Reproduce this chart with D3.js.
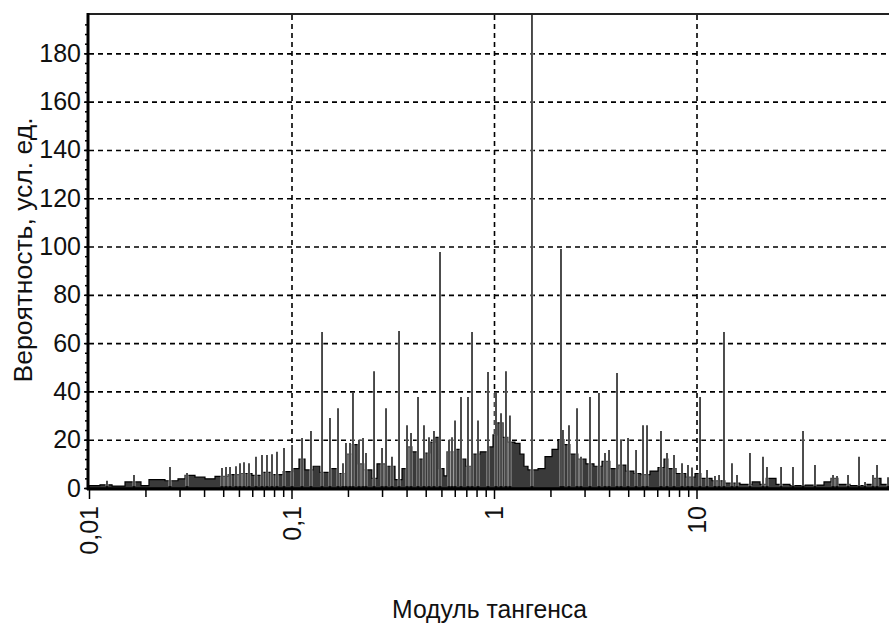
<!DOCTYPE html>
<html>
<head>
<meta charset="utf-8">
<script src="https://cdn.jsdelivr.net/npm/d3@7"></script>
<style>
body { margin: 0; background: #fff; }
text { font-family: "Liberation Sans Narrow", "Liberation Sans", Arial, sans-serif; fill: #111; }
</style>
</head>
<body>
<div id="plot"></div>
<script>
// background of the histogram (step outline), tangent modulus -> probability
var envX = [0.01, 0.01133, 0.0130, 0.01506, 0.01806, 0.01978, 0.02373, 0.02751, 0.0298, 0.03338,
	0.03739, 0.0419, 0.04858, 0.05568, 0.06381, 0.0715, 0.0801, 0.0908, 0.1017, 0.1089,
	0.1166, 0.1277, 0.1382, 0.1549, 0.1697, 0.1858, 0.199, 0.213, 0.228, 0.2498,
	0.2644, 0.2929, 0.3244, 0.3513, 0.3719, 0.3937, 0.4214, 0.4511, 0.4831, 0.5112,
	0.535, 0.5663, 0.5861, 0.6419, 0.6871, 0.7273, 0.7788, 0.8529, 0.9341, 0.9888,
	1.035, 1.108, 1.173, 1.269, 1.344, 1.406, 1.472, 1.65, 1.786, 1.934,
	2.07, 2.217, 2.373, 2.599, 2.846, 3.117, 3.415, 3.74, 4.096, 4.487,
	4.914, 5.32, 5.893, 6.455, 6.91, 7.233, 7.922, 8.875, 9.831, 10.52,
	11.93, 13.83, 16.4, 18.8, 20.59, 22.04, 24.7, 28.95, 34.34, 42.62,
	46.16, 49.98, 57.28, 67.95, 74.39, 81.48, 89.25];
var envY = [1.0, 1.3, 0.8, 2.5, 1.0, 3.5, 3.0, 3.8, 5.2, 4.5,
	3.8, 4.8, 5.5, 6.0, 5.2, 6.5, 5.5, 6.8, 8.0, 12.0,
	7.5, 9.0, 6.5, 8.0, 6.0, 14.0, 18.0, 10.0, 7.5, 4.0,
	10.0, 9.0, 3.5, 8.0, 17.0, 15.0, 12.0, 14.5, 19.0, 21.0,
	8.0, 5.0, 15.0, 16.0, 12.0, 9.0, 14.0, 15.0, 17.0, 22.0,
	27.0, 21.0, 19.0, 18.5, 14.0, 9.0, 7.5, 8.0, 13.0, 16.0,
	20.0, 18.0, 14.0, 12.0, 10.0, 9.0, 11.0, 8.0, 9.5, 7.0,
	6.0, 5.5, 7.0, 8.5, 12.0, 8.0, 6.0, 4.5, 6.0, 4.0,
	3.0, 2.0, 1.5, 2.5, 1.5, 4.0, 1.5, 1.0, 1.2, 2.5,
	4.0, 1.5, 1.0, 1.5, 4.0, 1.5, 1.0];

// single narrow bins that stick out
var spikeX = [0.01227, 0.01668, 0.02512, 0.03048, 0.04537, 0.04749, 0.0497, 0.0532, 0.05568, 0.05827,
	0.06168, 0.06678, 0.0715, 0.07568, 0.08011, 0.08479, 0.09183, 0.1006, 0.1127, 0.1248,
	0.1415, 0.1549, 0.1697, 0.1796, 0.1858, 0.1945, 0.2012, 0.2154, 0.2255, 0.2333,
	0.2556, 0.2799, 0.2929, 0.3135, 0.3396, 0.3719, 0.3892, 0.4214, 0.4511, 0.4775,
	0.5054, 0.5412, 0.5995, 0.6203, 0.6419, 0.6871, 0.744, 0.7788, 0.8337, 0.9341,
	1.023, 1.083, 1.146, 1.199, 1.54, 2.142, 2.191, 2.346, 2.57, 2.689,
	2.979, 3.299, 3.533, 3.698, 4.05, 4.239, 4.59, 5.028, 5.443, 5.697,
	6.678, 7.15, 7.743, 8.481, 9.078, 9.501, 10.41, 11.27, 12.34, 12.92,
	13.67, 14.97, 15.85, 18.37, 21.3, 22.29, 26.15, 29.96, 33.57, 38.47,
	47.22, 49.42, 56.0, 63.46, 67.95, 74.39, 77.88, 88.26];
var spikeY = [3, 5.4, 8.7, 6.2, 8.3, 8.7, 8.7, 9, 10.3, 10.7,
	10.3, 12.9, 13.7, 13.7, 14, 15, 16.6, 17.8, 20.7, 23.6,
	64.6, 29, 33, 10.3, 18.6, 18.6, 39.3, 20, 20.7, 14.5,
	48.4, 16.6, 33, 12.9, 65, 26, 22.8, 37.7, 26, 21,
	23.6, 97.7, 20, 21, 28, 37.7, 37.7, 64.6, 28, 48,
	39.3, 31, 48.4, 30, 200, 99, 24, 26, 33, 12.9,
	37.7, 39.3, 14.5, 15.7, 47.6, 20, 20.7, 15.7, 26, 26,
	23.6, 14.5, 13.7, 10.3, 9.5, 8.5, 37.7, 7.5, 5, 5.4,
	64.6, 10.3, 5.4, 14.5, 12.9, 8.7, 8.7, 8.7, 23.6, 9.5,
	5.4, 5, 5.4, 12.9, 2.5, 5.4, 9.5, 4.5];

var yTicks = [0, 20, 40, 60, 80, 100, 120, 140, 160, 180];
var xTicks = [0.01, 0.1, 1, 10];
var xTickLabels = ["0,01", "0,1", "1", "10"];
var xMinor = [0.019, 0.028, 0.037, 0.046, 0.055, 0.064, 0.073, 0.082, 0.091,
	0.19, 0.28, 0.37, 0.46, 0.55, 0.64, 0.73, 0.82, 0.91,
	1.9, 2.8, 3.7, 4.6, 5.5, 6.4, 7.3, 8.2, 9.1];

var w = 889;
var h = 624;
var plotLeft = 89, plotRight = 889, plotTop = 14, plotBottom = 488;

var xScale = d3.scaleLog()
	.domain([0.01, 89.25])
	.range([plotLeft, plotRight]);

var yScale = d3.scaleLinear()
	.domain([0, 196.3])
	.range([plotBottom, plotTop]);

var svg = d3.select("#plot").append("svg")
	.attr("width", w)
	.attr("height", h);

svg.append("rect").attr("width", w).attr("height", h).attr("fill", "#fff");

svg.append("clipPath").attr("id", "clip")
	.append("rect")
	.attr("x", plotLeft - 1).attr("y", plotTop)
	.attr("width", plotRight - plotLeft + 1).attr("height", plotBottom - plotTop + 1);

// dashed grid
var gy = svg.append("g")
	.attr("transform", "translate(" + plotLeft + ",0)")
	.call(d3.axisLeft(yScale).tickValues(yTicks.slice(1)).tickSize(-(plotRight - plotLeft)).tickFormat(""));
gy.select(".domain").remove();
gy.selectAll("line").attr("stroke", "#000").attr("stroke-width", 1.6).attr("stroke-dasharray", "5,4");

var gx = svg.append("g")
	.attr("transform", "translate(0," + plotBottom + ")")
	.call(d3.axisBottom(xScale).tickValues([0.1, 1, 10]).tickSize(-(plotBottom - plotTop)).tickFormat(""));
gx.select(".domain").remove();
gx.selectAll("line").attr("stroke", "#000").attr("stroke-width", 1.6).attr("stroke-dasharray", "5,4");

// histogram body
var env = envX.map(function(d, i) { return {x: d, y: envY[i]}; });
var area = d3.area()
	.x(function(d) { return xScale(d.x); })
	.y0(yScale(0))
	.y1(function(d) { return yScale(d.y); })
	.curve(d3.curveStepAfter);

var bars = svg.append("g").attr("clip-path", "url(#clip)");

bars.append("path")
	.datum(env)
	.attr("d", area)
	.attr("fill", "#3a3a3a")
	.attr("stroke", "#000")
	.attr("stroke-width", 1.2);

var spikes = spikeX.map(function(d, i) { return {x: d, y: spikeY[i]}; });

bars.selectAll(".halo")
	.data(spikes)
	.enter()
	.append("line")
	.attr("class", "halo")
	.attr("x1", function(d) { return xScale(d.x); })
	.attr("x2", function(d) { return xScale(d.x); })
	.attr("y1", yScale(0) - 2)
	.attr("y2", function(d) { return yScale(d.y); })
	.attr("stroke", "#fff")
	.attr("stroke-width", 2.6);

bars.selectAll(".spike")
	.data(spikes)
	.enter()
	.append("line")
	.attr("class", "spike")
	.attr("x1", function(d) { return xScale(d.x); })
	.attr("x2", function(d) { return xScale(d.x); })
	.attr("y1", yScale(0))
	.attr("y2", function(d) { return yScale(d.y); })
	.attr("stroke", "#000")
	.attr("stroke-width", 1.4);

// frame
svg.append("line")
	.attr("x1", plotLeft - 1).attr("x2", plotRight)
	.attr("y1", plotTop).attr("y2", plotTop)
	.attr("stroke", "#222").attr("stroke-width", 2);

// y axis
var yAxisG = svg.append("g")
	.attr("transform", "translate(" + (plotLeft - 1) + ",0)")
	.call(d3.axisLeft(yScale).tickValues(yTicks).tickSize(4).tickPadding(3));
yAxisG.select(".domain").remove();
yAxisG.selectAll("line").attr("stroke", "#000").attr("stroke-width", 1.5);
yAxisG.selectAll("text")
	.style("font-size", "25px")
	.attr("fill", "#111");

var yMinorG = svg.append("g")
	.attr("transform", "translate(" + (plotLeft - 1) + ",0)")
	.call(d3.axisLeft(yScale).tickValues(d3.range(0, 196, 4)).tickSize(3).tickFormat(""));
yMinorG.select(".domain").remove();
yMinorG.selectAll("line").attr("stroke", "#000").attr("stroke-width", 1.5);

svg.append("line")
	.attr("x1", plotLeft - 1).attr("x2", plotLeft - 1)
	.attr("y1", plotTop - 1).attr("y2", plotBottom + 2)
	.attr("stroke", "#000").attr("stroke-width", 3);

// x axis
svg.append("line")
	.attr("x1", plotLeft - 2).attr("x2", plotRight)
	.attr("y1", plotBottom + 1).attr("y2", plotBottom + 1)
	.attr("stroke", "#000").attr("stroke-width", 3);

var xMinorG = svg.append("g")
	.attr("transform", "translate(0," + (plotBottom + 1) + ")")
	.call(d3.axisBottom(xScale).tickValues(xMinor).tickSize(8).tickFormat(""));
xMinorG.select(".domain").remove();
xMinorG.selectAll("line").attr("stroke", "#000").attr("stroke-width", 1.5);

var xAxisG = svg.append("g")
	.attr("transform", "translate(0," + (plotBottom + 1) + ")")
	.call(d3.axisBottom(xScale).tickValues(xTicks).tickSize(10)
		.tickFormat(function(d, i) { return xTickLabels[i]; }));
xAxisG.select(".domain").remove();
xAxisG.selectAll("line").attr("stroke", "#000").attr("stroke-width", 1.5);
xAxisG.selectAll("text")
	.attr("transform", "rotate(-90)")
	.attr("x", -17)
	.attr("y", 0)
	.attr("dy", "0.35em")
	.style("text-anchor", "end")
	.style("font-size", "25px")
	.attr("fill", "#111");

// titles
svg.append("text")
	.attr("transform", "translate(32,250) rotate(-90)")
	.attr("text-anchor", "middle")
	.attr("textLength", 265)
	.attr("lengthAdjust", "spacingAndGlyphs")
	.style("font-size", "26px")
	.text("Вероятность, усл. ед.");

svg.append("text")
	.attr("x", 489.5)
	.attr("y", 618)
	.attr("text-anchor", "middle")
	.attr("textLength", 195)
	.attr("lengthAdjust", "spacingAndGlyphs")
	.style("font-size", "26px")
	.text("Модуль тангенса");
</script>
</body>
</html>
